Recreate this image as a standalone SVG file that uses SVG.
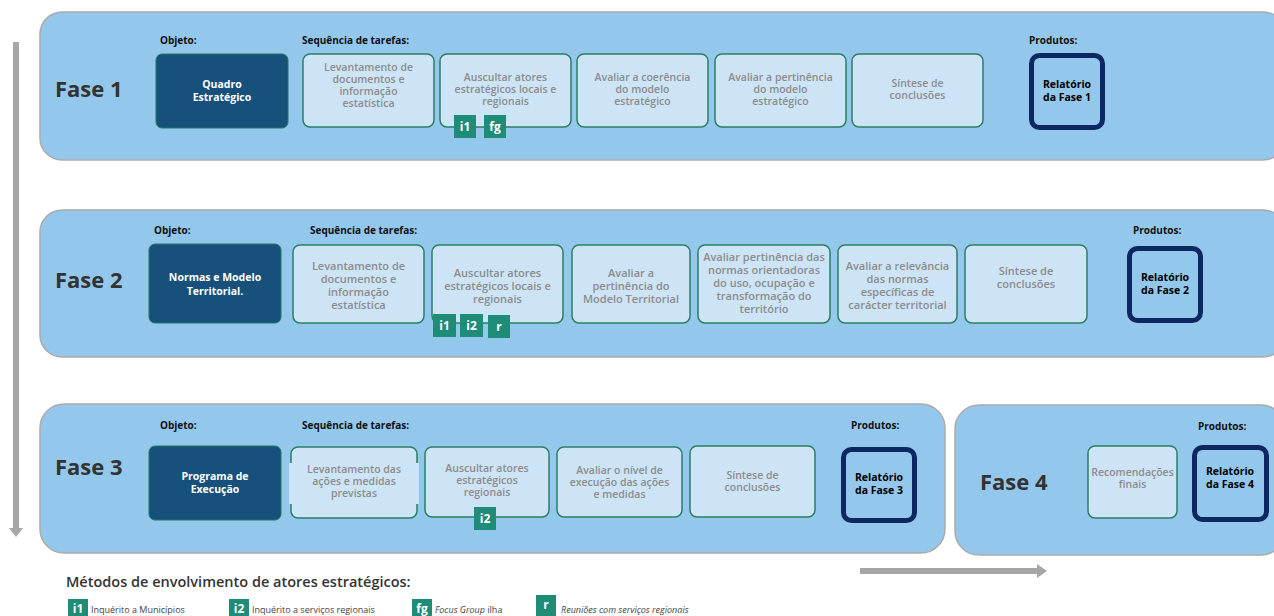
<svg xmlns="http://www.w3.org/2000/svg" width="1274" height="616" viewBox="0 0 1274 616">
<defs>
<style>
.panel{fill:#94c7ec;stroke:#ababab;stroke-width:1.5}
.obj{fill:#17507a;stroke:#1f7a68;stroke-width:1}
.task{fill:#cce4f5;stroke:#2a7f63;stroke-width:1.5}
.prod{fill:#94c7ec;stroke:#0c2762;stroke-width:5}
.badge{fill:#1f8c77}
text{font-family:"Open Sans","Liberation Sans",sans-serif}
.hdr{font-size:10px;font-weight:700;fill:#111}
.fase{font-size:22px;font-weight:700;fill:#333}
.ot{font-size:10.5px;font-weight:700;fill:#fff;text-anchor:middle}
.tt{font-size:10.5px;font-weight:600;fill:#8c8c8c;text-anchor:middle}
.tt2{font-size:11px;font-weight:600;fill:#8c8c8c;text-anchor:middle}
.pt{font-size:10.5px;font-weight:700;fill:#000;text-anchor:middle}
.bt{font-size:12px;font-weight:700;fill:#fff;text-anchor:middle}
.lt{font-size:9px;fill:#444}
.arrow{fill:#a6a6a6}
</style>
</defs>

<g id="connectors">
<path class="arrow" d="M13 42 H19 V528 H23 L16 537 L9 528 H13 Z"/>
<path class="arrow" d="M860 568 H1037 V564 L1047 571 L1037 578 V574 H860 Z"/>
</g>

<!-- Fase 1 -->
<g id="fase1">
<rect class="panel" x="40" y="12" width="1245" height="148" rx="22"/>
<text class="hdr" x="160" y="44">Objeto:</text>
<text class="hdr" x="302" y="44">Sequência de tarefas:</text>
<text class="hdr" x="1029" y="44">Produtos:</text>
<text class="fase" x="55" y="97">Fase 1</text>
</g>
<g id="f1-objeto">
<rect class="obj" x="156" y="54" width="132" height="74" rx="6"/>
<text class="ot" x="222" y="88">Quadro</text>
<text class="ot" x="222" y="101">Estratégico</text>
</g>
<g id="f1-t1">
<rect class="task" x="303" y="54" width="131" height="73" rx="7"/>
<text class="tt" x="368.5" y="71">Levantamento de</text>
<text class="tt" x="368.5" y="83">documentos e</text>
<text class="tt" x="368.5" y="95">informação</text>
<text class="tt" x="368.5" y="107">estatística</text>
</g>
<g id="f1-t2">
<rect class="task" x="440" y="54" width="131" height="73" rx="7"/>
<text class="tt" x="505.5" y="81">Auscultar atores</text>
<text class="tt" x="505.5" y="93">estratégicos locais e</text>
<text class="tt" x="505.5" y="105">regionais</text>
</g>
<g id="f1-t3">
<rect class="task" x="577" y="54" width="131" height="73" rx="7"/>
<text class="tt" x="642.5" y="81">Avaliar a coerência</text>
<text class="tt" x="642.5" y="93">do modelo</text>
<text class="tt" x="642.5" y="105">estratégico</text>
</g>
<g id="f1-t4">
<rect class="task" x="715" y="54" width="131" height="73" rx="7"/>
<text class="tt" x="780.5" y="81">Avaliar a pertinência</text>
<text class="tt" x="780.5" y="93">do modelo</text>
<text class="tt" x="780.5" y="105">estratégico</text>
</g>
<g id="f1-t5">
<rect class="task" x="852" y="54" width="131" height="73" rx="7"/>
<text class="tt" x="917.5" y="87">Síntese de</text>
<text class="tt" x="917.5" y="99">conclusões</text>
</g>
<g id="f1-i1"><rect class="badge" x="454" y="115" width="22" height="23"/><text class="bt" x="465" y="131">i1</text></g>
<g id="f1-fg"><rect class="badge" x="484" y="115" width="22" height="23"/><text class="bt" x="495" y="131">fg</text></g>
<g id="f1-prod">
<rect class="prod" x="1031.5" y="55.5" width="71" height="72" rx="8"/>
<text class="pt" x="1067" y="88">Relatório</text>
<text class="pt" x="1067" y="101">da Fase 1</text>
</g>

<!-- Fase 2 -->
<g id="fase2">
<rect class="panel" x="40" y="210" width="1245" height="147" rx="22"/>
<text class="hdr" x="154" y="234">Objeto:</text>
<text class="hdr" x="310" y="234">Sequência de tarefas:</text>
<text class="hdr" x="1133" y="234">Produtos:</text>
<text class="fase" x="55" y="288">Fase 2</text>
</g>
<g id="f2-objeto">
<rect class="obj" x="149" y="244" width="132" height="79" rx="6"/>
<text class="ot" x="215" y="281">Normas  e Modelo</text>
<text class="ot" x="215" y="295">Territorial.</text>
</g>
<g id="f2-t1">
<rect class="task" x="293" y="245" width="131" height="78" rx="7"/>
<text class="tt2" x="358.5" y="270">Levantamento de</text>
<text class="tt2" x="358.5" y="283">documentos e</text>
<text class="tt2" x="358.5" y="296">informação</text>
<text class="tt2" x="358.5" y="309">estatística</text>
</g>
<g id="f2-t2">
<rect class="task" x="432" y="245" width="131" height="78" rx="7"/>
<text class="tt2" x="497.5" y="277">Auscultar atores</text>
<text class="tt2" x="497.5" y="290">estratégicos locais e</text>
<text class="tt2" x="497.5" y="303">regionais</text>
</g>
<g id="f2-t3">
<rect class="task" x="572" y="245" width="118" height="78" rx="7"/>
<text class="tt2" x="631" y="277">Avaliar a</text>
<text class="tt2" x="631" y="290">pertinência do</text>
<text class="tt2" x="631" y="303">Modelo Territorial</text>
</g>
<g id="f2-t4">
<rect class="task" x="698" y="245" width="132" height="78" rx="7"/>
<text class="tt2" x="764" y="261">Avaliar pertinência das</text>
<text class="tt2" x="764" y="274">normas orientadoras</text>
<text class="tt2" x="764" y="287">do uso, ocupação e</text>
<text class="tt2" x="764" y="300">transformação do</text>
<text class="tt2" x="764" y="313">território</text>
</g>
<g id="f2-t5">
<rect class="task" x="838" y="245" width="119" height="78" rx="7"/>
<text class="tt2" x="897.5" y="270">Avaliar a relevância</text>
<text class="tt2" x="897.5" y="283">das normas</text>
<text class="tt2" x="897.5" y="296">específicas de</text>
<text class="tt2" x="897.5" y="309">carácter territorial</text>
</g>
<g id="f2-t6">
<rect class="task" x="965" y="245" width="122" height="78" rx="7"/>
<text class="tt2" x="1026" y="275">Síntese de</text>
<text class="tt2" x="1026" y="288">conclusões</text>
</g>
<g id="f2-i1"><rect class="badge" x="433" y="314" width="23" height="23"/><text class="bt" x="444.5" y="330">i1</text></g>
<g id="f2-i2"><rect class="badge" x="460" y="314" width="23" height="23"/><text class="bt" x="471.5" y="330">i2</text></g>
<g id="f2-r"><rect class="badge" x="488" y="315" width="22" height="23"/><text class="bt" x="499" y="331">r</text></g>
<g id="f2-prod">
<rect class="prod" x="1129.5" y="248.5" width="71" height="72" rx="8"/>
<text class="pt" x="1165" y="281">Relatório</text>
<text class="pt" x="1165" y="294">da Fase 2</text>
</g>

<!-- Fase 3 -->
<g id="fase3">
<rect class="panel" x="40" y="404" width="905" height="149" rx="24"/>
<text class="hdr" x="160" y="429">Objeto:</text>
<text class="hdr" x="302" y="429">Sequência de tarefas:</text>
<text class="hdr" x="851" y="429">Produtos:</text>
<text class="fase" x="55" y="475">Fase 3</text>
</g>
<g id="f3-objeto">
<rect class="obj" x="149" y="446" width="132" height="74" rx="6"/>
<text class="ot" x="215" y="480">Programa de</text>
<text class="ot" x="215" y="493">Execução</text>
</g>
<g id="f3-t1">
<rect class="task" x="291" y="447" width="126" height="71" rx="7"/>
<rect x="289" y="463" width="130" height="41" fill="#cce4f5"/>
<text class="tt" x="354" y="473">Levantamento das</text>
<text class="tt" x="354" y="485">ações e medidas</text>
<text class="tt" x="354" y="497">previstas</text>
</g>
<g id="f3-t2">
<rect class="task" x="425" y="447" width="124" height="70" rx="7"/>
<text class="tt" x="487" y="472">Auscultar atores</text>
<text class="tt" x="487" y="484">estratégicos</text>
<text class="tt" x="487" y="496">regionais</text>
</g>
<g id="f3-t3">
<rect class="task" x="557" y="447" width="125" height="70" rx="7"/>
<text class="tt" x="619.5" y="474">Avaliar o nível de</text>
<text class="tt" x="619.5" y="486">execução das ações</text>
<text class="tt" x="619.5" y="498">e medidas</text>
</g>
<g id="f3-t4">
<rect class="task" x="690" y="446" width="125" height="71" rx="7"/>
<text class="tt" x="752.5" y="479">Síntese de</text>
<text class="tt" x="752.5" y="491">conclusões</text>
</g>
<g id="f3-i2"><rect class="badge" x="474" y="507" width="22" height="23"/><text class="bt" x="485" y="523">i2</text></g>
<g id="f3-prod">
<rect class="prod" x="843.5" y="449.5" width="71" height="71" rx="8"/>
<text class="pt" x="879" y="481">Relatório</text>
<text class="pt" x="879" y="494">da Fase 3</text>
</g>

<!-- Fase 4 -->
<g id="fase4">
<rect class="panel" x="955" y="405" width="330" height="150" rx="24"/>
<text class="hdr" x="1198" y="430">Produtos:</text>
<text class="fase" x="980" y="490">Fase 4</text>
</g>
<g id="f4-t1">
<rect class="task" x="1088" y="446" width="89" height="72" rx="7"/>
<text class="tt" x="1132.5" y="476">Recomendações</text>
<text class="tt" x="1132.5" y="488">finais</text>
</g>
<g id="f4-prod">
<rect class="prod" x="1194.5" y="447.5" width="72" height="72" rx="8"/>
<text class="pt" x="1230" y="475">Relatório</text>
<text class="pt" x="1230" y="488">da Fase 4</text>
</g>

<!-- Legend -->
<g id="legend">
<text x="66" y="587" font-size="14.5" font-weight="600" fill="#333">Métodos de envolvimento de atores estratégicos:</text>
<rect class="badge" x="68" y="599" width="20" height="17"/><text class="bt" x="78" y="613">i1</text>
<text class="lt" x="91" y="613">Inquérito a Municípios</text>
<rect class="badge" x="229" y="599" width="20" height="17"/><text class="bt" x="239" y="613">i2</text>
<text class="lt" x="252" y="613">Inquérito a serviços regionais</text>
<rect class="badge" x="412" y="599" width="20" height="17"/><text class="bt" x="422" y="613">fg</text>
<text class="lt" x="435" y="613"><tspan font-style="italic">Focus Group</tspan> ilha</text>
<rect class="badge" x="536" y="595" width="20" height="21"/><text class="bt" x="546" y="609">r</text>
<text class="lt" x="561" y="613" font-style="italic">Reuniões com serviços regionais</text>
</g>
</svg>
